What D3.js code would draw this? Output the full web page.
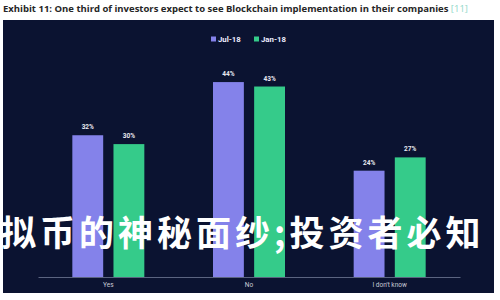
<!DOCTYPE html>
<html><head><meta charset="utf-8">
<script src="https://cdn.jsdelivr.net/npm/d3@7"></script>
<style>body{margin:0;background:#fff;}svg{display:block;}</style>
</head><body>
<svg id="c" width="500" height="300"></svg>
<script>
const categories = ["Yes", "No", "I don't know"];
const seriesNames = ["Jul-18", "Jan-18"];
const jul18 = [32, 44, 24];
const jan18 = [30, 43, 27];
const colors = ["#8482ea", "#35cb8a"];

const svg = d3.select("#c");
// title
const t = svg.append("text").attr("x", 3).attr("y", 12)
  .attr("font-family", "Open Sans, sans-serif").attr("font-size", 9.5).attr("font-weight", 700).attr("fill", "#262626");
t.append("tspan").text("Exhibit 11: One third of investors expect to see Blockchain implementation in their companies ");
t.append("tspan").attr("fill", "#8fd8c8").attr("font-weight", 400).text("[11]");

// panel
svg.append("rect").attr("x", 3).attr("y", 20).attr("width", 491).attr("height", 273).attr("fill", "#0b1331");

const x0 = d3.scaleBand().domain(categories).range([38, 460]).paddingInner(0).paddingOuter(0);
const x1 = d3.scaleBand().domain(seriesNames).range([x0.bandwidth()/2 - 36, x0.bandwidth()/2 + 36]).paddingInner(0.25).paddingOuter(0);
const y = d3.scaleLinear().domain([0, 50]).range([277, 55.5]);

// axis
const xAxis = svg.append("g").attr("transform", "translate(0,277)").call(d3.axisBottom(x0).tickSize(0).tickPadding(5));
xAxis.select(".domain").attr("stroke", "#5b6480").attr("stroke-width", 1);
xAxis.selectAll("text").attr("fill", "#c9cbd6").attr("font-size", 6.5).attr("font-family", "Roboto, sans-serif");

const data = categories.map((c, i) => ({cat: c, vals: [jul18[i], jan18[i]]}));
const g = svg.append("g").selectAll("g").data(data).join("g").attr("transform", d => `translate(${x0(d.cat)},0)`);
g.selectAll("rect").data(d => d.vals.map((v, j) => ({s: seriesNames[j], v, j})))
  .join("rect").attr("x", d => x1(d.s)).attr("width", x1.bandwidth())
  .attr("y", d => y(d.v)).attr("height", d => y(0) - y(d.v)).attr("fill", d => colors[d.j]);
g.selectAll("text.v").data(d => d.vals.map((v, j) => ({s: seriesNames[j], v, j})))
  .join("text").attr("class", "v").attr("x", d => x1(d.s) + x1.bandwidth()/2).attr("y", d => y(d.v) - 6)
  .attr("text-anchor", "middle").attr("font-size", 6.5).attr("font-weight", 700)
  .attr("font-family", "Roboto, sans-serif").attr("fill", "#e8e9f0").text(d => d.v + "%");

// legend
const lg = svg.append("g").attr("transform", "translate(211,39)");
const items = [{n: seriesNames[0], c: colors[0], x: 0}, {n: seriesNames[1], c: colors[1], x: 43}];
items.forEach(it => {
  lg.append("rect").attr("x", it.x).attr("y", -2.5).attr("width", 5).attr("height", 5).attr("fill", it.c);
  lg.append("text").attr("x", it.x + 7).attr("y", 2.5).attr("font-size", 7.8).attr("font-weight", 700)
    .attr("font-family", "Roboto, sans-serif").attr("fill", "#eef").text(it.n);
});

// watermark
svg.append("text").attr("x", 1).attr("y", 246)
  .attr("font-family", "Noto Sans CJK SC, sans-serif").attr("font-weight", 700).attr("font-size", 35)
  .attr("letter-spacing", 4).attr("fill", "#ffffff").text("拟币的神秘面纱;投资者必知");
</script>
</body></html>
